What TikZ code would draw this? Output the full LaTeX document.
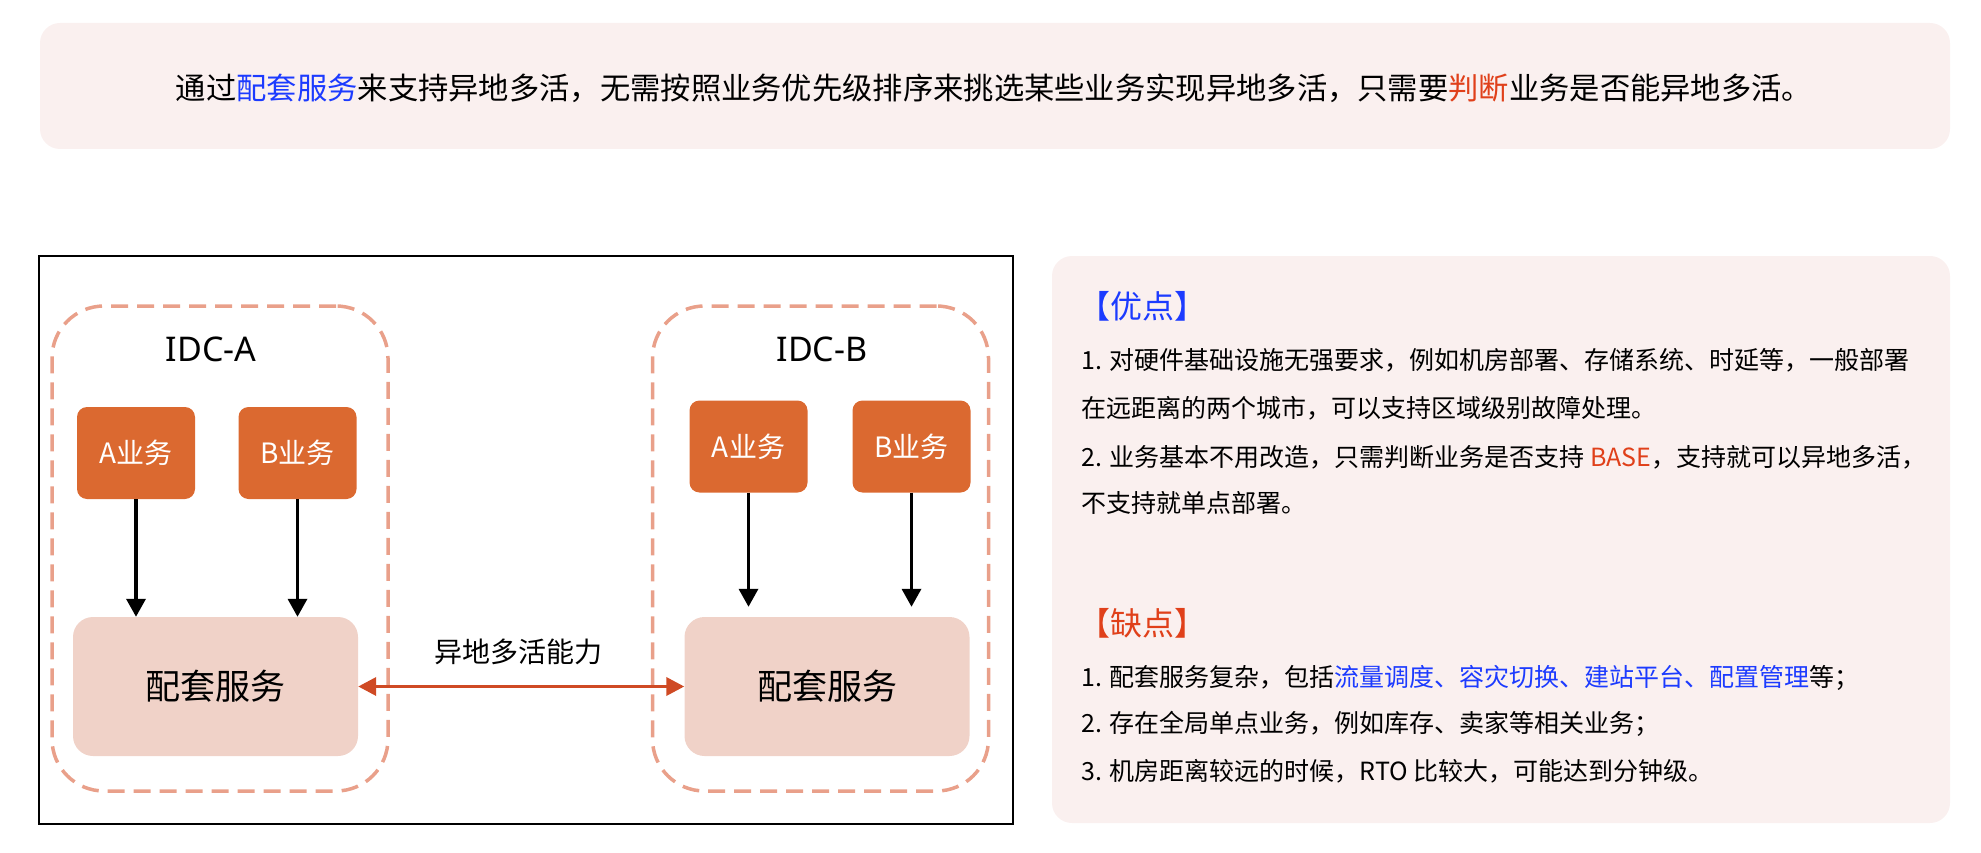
\documentclass[tikz,border=0pt]{standalone}
\usepackage{fontspec}
\setmainfont{Noto Sans CJK SC}
\newfontfamily\latinfont{Noto Sans}
\usetikzlibrary{arrows.meta}
\definecolor{panel}{HTML}{FAF0EF}
\definecolor{orng}{HTML}{DB6930}
\definecolor{pinkbox}{HTML}{F0D2C8}
\definecolor{dashc}{HTML}{E9A08A}
\definecolor{blu}{HTML}{1C3BFF}
\definecolor{rd}{HTML}{E0401A}
\definecolor{arrc}{HTML}{CF4A24}
\newcommand\fsz[1]{\fontsize{#1}{#1}\selectfont}
\begin{document}
\begin{tikzpicture}[x=1pt,y=-1pt,
  svc/.style={fill=orng, rounded corners=10pt, text=white, font=\fsz{28}, minimum width=118pt, minimum height=92pt, inner sep=0pt},
  cfg/.style={fill=pinkbox, rounded corners=20pt, font=\fsz{35}, minimum width=285pt, minimum height=139pt, inner sep=0pt},
  idc/.style={draw=dashc, line width=3.5pt, dash pattern=on 17pt off 9pt, rounded corners=52pt, minimum width=336pt, minimum height=485pt, inner sep=0pt},
  idclabel/.style={font=\latinfont\fsz{34}},
  bodytxt/.style={anchor=west, font=\fsz{25}, inner sep=0pt},
  headtxt/.style={anchor=west, font=\fsz{32}, inner sep=0pt},
  flow/.style={line width=3.5pt, -{Triangle[length=18pt,width=19pt]}},
  link/.style={draw=arrc, line width=3.5pt, {Triangle[length=18pt,width=18pt]}-{Triangle[length=18pt,width=18pt]}}
]
\useasboundingbox (0,0) rectangle (1981,853);
% top banner
\fill[panel, rounded corners=20pt] (40,23) rectangle (1950,149);
\node[font=\fsz{30.3}, inner sep=0pt] (banner) at (994,88) {通过\textcolor{blu}{配套服务}来支持异地多活，无需按照业务优先级排序来挑选某些业务实现异地多活，只需要\textcolor{rd}{判断}业务是否能异地多活。};
% left frame
\draw[line width=2pt] (39,256) rectangle (1013,824);
\node[idc] (idca) at (220,548.5) {};
\node[idc] (idcb) at (820.5,548.5) {};
\node[idclabel] (la) at (211,349) {IDC-A};
\node[idclabel] (lb) at (822,349) {IDC-B};
\node[svc] (aa) at (136,453) {A业务};
\node[svc] (ab) at (297.5,453) {B业务};
\node[svc] (ba) at (748.5,446.5) {A业务};
\node[svc] (bb) at (911.5,446.5) {B业务};
\node[cfg] (ca) at (215.5,686.5) {配套服务};
\node[cfg] (cb) at (827,686.5) {配套服务};
\draw[flow] (aa) -- (aa |- ca.north);
\draw[flow] (ab) -- (ab |- ca.north);
\draw[flow, shorten >=10pt] (ba) -- (ba |- cb.north);
\draw[flow, shorten >=10pt] (bb) -- (bb |- cb.north);
\draw[link] (ca.east) -- (cb.west);
\node[font=\fsz{28}] (cap) at (518,652) {异地多活能力};
% right panel
\fill[panel, rounded corners=20pt] (1052,256) rectangle (1950,823);
\node[headtxt, text=blu] (h1) at (1078,306) {【优点】};
\node[bodytxt] (p1) at (1081,360) {1. 对硬件基础设施无强要求，例如机房部署、存储系统、时延等，一般部署};
\node[bodytxt] (p2) at (1081,408) {在远距离的两个城市，可以支持区域级别故障处理。};
\node[bodytxt] (p3) at (1081,457) {2. 业务基本不用改造，只需判断业务是否支持 \textcolor{rd}{BASE}，支持就可以异地多活，};
\node[bodytxt] (p4) at (1081,503) {不支持就单点部署。};
\node[headtxt, text=rd] (h2) at (1078,623) {【缺点】};
\node[bodytxt] (q1) at (1081,678) {1. 配套服务复杂，包括\textcolor{blu}{流量调度、容灾切换、建站平台、配置管理}等；};
\node[bodytxt] (q2) at (1081,724) {2. 存在全局单点业务，例如库存、卖家等相关业务；};
\node[bodytxt] (q3) at (1081,771) {3. 机房距离较远的时候，RTO 比较大，可能达到分钟级。};
\end{tikzpicture}
\end{document}
